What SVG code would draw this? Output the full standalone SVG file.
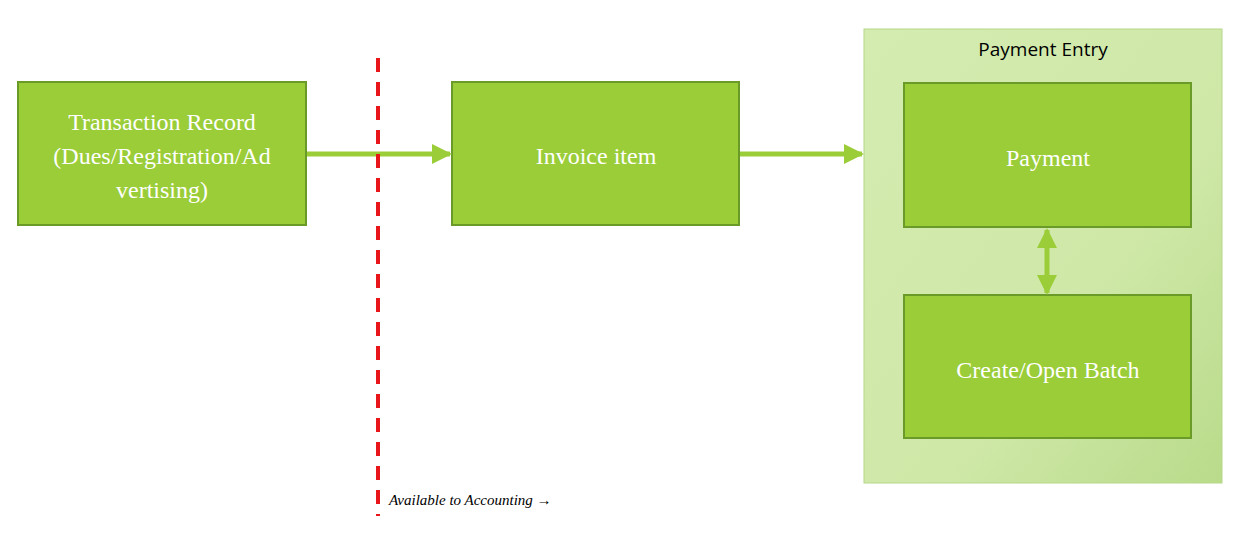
<svg xmlns="http://www.w3.org/2000/svg" width="1237" height="540" viewBox="0 0 1237 540">
<defs>
<style>
.box{fill:#9acd38;stroke:#6a9a28;stroke-width:2}
.t{font-family:"Liberation Serif",serif;font-size:24px;fill:#fff;text-anchor:middle}
.c{stroke:#9acd38;stroke-width:5;fill:none}
</style>
<linearGradient id="g" x1="0" y1="0" x2="1" y2="1">
<stop offset="0" stop-color="#d4ecb0"/><stop offset="0.6" stop-color="#cfe8a8"/><stop offset="1" stop-color="#b9db8a"/>
</linearGradient>
<marker id="a" viewBox="0 0 10 10" refX="9" refY="5" markerWidth="4" markerHeight="4" orient="auto-start-reverse" markerUnits="strokeWidth">
<path d="M0,0 L10,5 L0,10 Z" fill="#9acd38"/></marker>
</defs>
<rect width="1237" height="540" fill="#fff"/>
<g id="payment-entry">
<rect x="864" y="29" width="358" height="454" fill="url(#g)" stroke="#b5d88a" stroke-width="1"/>
<text x="1043" y="56" font-family="'Open Sans',sans-serif" font-size="19" text-anchor="middle" fill="#000">Payment Entry</text>
</g>
<g id="transaction">
<rect class="box" x="18" y="82" width="288" height="143"/>
<text class="t"><tspan x="162" y="130">Transaction Record</tspan><tspan x="162" y="164">(Dues/Registration/Ad</tspan><tspan x="162" y="198">vertising)</tspan></text>
</g>
<g id="invoice">
<rect class="box" x="452" y="82" width="287" height="143"/>
<text class="t" x="596" y="164">Invoice item</text>
</g>
<g id="payment">
<rect class="box" x="904" y="83" width="287" height="144"/>
<text class="t" x="1048" y="166">Payment</text>
</g>
<g id="batch">
<rect class="box" x="904" y="295" width="287" height="143"/>
<text class="t" x="1048" y="378">Create/Open Batch</text>
</g>
<g id="connectors">
<line class="c" x1="307" y1="154" x2="450" y2="154" marker-end="url(#a)"/>
<line class="c" x1="740" y1="154" x2="862" y2="154" marker-end="url(#a)"/>
<line class="c" x1="1047" y1="230" x2="1047" y2="293" marker-start="url(#a)" marker-end="url(#a)"/>
</g>
<g id="divider">
<line x1="378" y1="58" x2="378" y2="516" stroke="#e8161b" stroke-width="4" stroke-dasharray="14,10"/>
<text x="389" y="505" font-family="'Liberation Serif',serif" font-size="15" font-style="italic" fill="#000">Available to Accounting →</text>
</g>
</svg>
